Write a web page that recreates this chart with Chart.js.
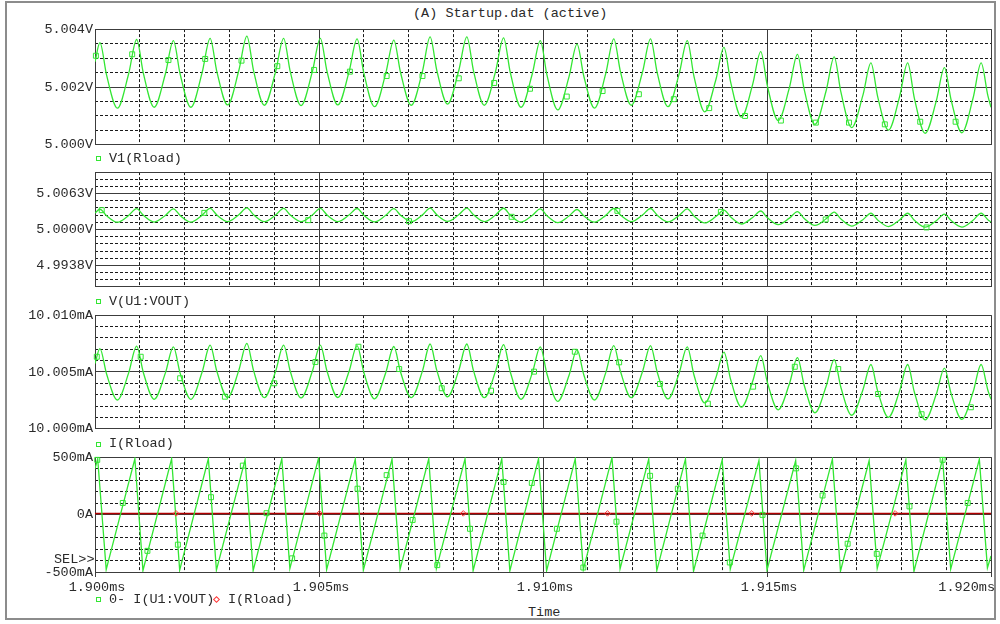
<!DOCTYPE html>
<html>
<head>
<meta charset="utf-8">
<script src="https://cdn.jsdelivr.net/npm/chart.js"></script>
<style>
  body { margin: 0; background: #fff; }
  #page { position: relative; width: 1000px; height: 624px; overflow: hidden;
          font-family: 'Liberation Mono', 'Courier New', monospace; font-size: 13.5px; color: #2a2a2a; }
  .frame { position: absolute; left: 5px; top: 1px; width: 991px; height: 619px;
           box-sizing: border-box; border: 2px solid #8c8c8c; }
  canvas { position: absolute; left: 0; }
  .txt { position: absolute; line-height: 16px; white-space: pre; }
  .sq { position: absolute; width: 3px; height: 3px; border: 1px solid #33e633; }
  .dia { position: absolute; width: 3px; height: 3px; border: 1px solid #ff3838; transform: rotate(45deg); }
</style>
</head>
<body>
<div id="page">
  <div class="frame"></div>
  <div class="txt" style="left:413px; top:6px;">(A) Startup.dat (active)</div>

  <canvas id="p1" width="1000" height="136" style="top:19px"></canvas>
  <canvas id="p2" width="1000" height="135" style="top:162px"></canvas>
  <canvas id="p3" width="1000" height="134" style="top:305px"></canvas>
  <canvas id="p4" width="1000" height="149" style="top:447px"></canvas>

  <div class="sq" style="left:96px; top:156px;"></div>
  <div class="txt" style="left:109px; top:151px;">V1(Rload)</div>
  <div class="sq" style="left:96px; top:299px;"></div>
  <div class="txt" style="left:109px; top:294px;">V(U1:VOUT)</div>
  <div class="sq" style="left:96px; top:442px;"></div>
  <div class="txt" style="left:109px; top:436px;">I(Rload)</div>
  <div class="txt" style="left:54px; top:552px;">SEL&gt;&gt;</div>
  <div class="sq" style="left:96px; top:597px;"></div>
  <div class="txt" style="left:109px; top:592px;">0- I(U1:VOUT)</div>
  <div class="dia" style="left:214px; top:597px;"></div>
  <div class="txt" style="left:228px; top:592px;">I(Rload)</div>
  <div class="txt" style="left:528px; top:605px;">Time</div>
</div>

<script>
// time axis, in microseconds (1900 us = 1.900 ms)
const timeTicks = [1900, 1905, 1910, 1915, 1920];
const timeTickLabels = ['1.900ms', '1.905ms', '1.910ms', '1.915ms', '1.920ms'];

const v1Ticks = [5.000, 5.002, 5.004];
const v1TickLabels = ['5.000V', '5.002V', '5.004V'];
const v2Ticks = [4.99, 4.99375, 5.0, 5.00625, 5.01];
const v2TickLabels = ['', '4.9938V', '5.0000V', '5.0063V', ''];
const i3Ticks = [10.000, 10.005, 10.010];
const i3TickLabels = ['10.000mA', '10.005mA', '10.010mA'];
const i4Ticks = [-500, 0, 500];
const i4TickLabels = ['-500mA', '0A', '500mA'];

// load voltage: peak, falling edge, trough, rising edge per cycle
const vTime = [1900.00,
  1900.11, 1900.26, 1900.50, 1900.75,
  1900.93, 1901.08, 1901.32, 1901.57,
  1901.75, 1901.90, 1902.14, 1902.39,
  1902.57, 1902.72, 1902.96, 1903.21,
  1903.39, 1903.54, 1903.78, 1904.03,
  1904.21, 1904.36, 1904.60, 1904.85,
  1905.03, 1905.18, 1905.42, 1905.67,
  1905.85, 1906.00, 1906.24, 1906.49,
  1906.67, 1906.82, 1907.06, 1907.31,
  1907.48, 1907.63, 1907.87, 1908.12,
  1908.30, 1908.45, 1908.69, 1908.94,
  1909.12, 1909.27, 1909.51, 1909.76,
  1909.94, 1910.09, 1910.33, 1910.58,
  1910.76, 1910.91, 1911.15, 1911.40,
  1911.58, 1911.73, 1911.97, 1912.22,
  1912.40, 1912.55, 1912.79, 1913.04,
  1913.22, 1913.37, 1913.61, 1913.86,
  1914.04, 1914.19, 1914.43, 1914.68,
  1914.86, 1915.01, 1915.25, 1915.50,
  1915.68, 1915.83, 1916.07, 1916.32,
  1916.50, 1916.65, 1916.89, 1917.14,
  1917.32, 1917.47, 1917.71, 1917.96,
  1918.14, 1918.29, 1918.53, 1918.78,
  1918.96, 1919.11, 1919.35, 1919.60,
  1919.78, 1919.93, 1920.00];

// V1(Rload); V(U1:VOUT) reads the same at its coarser scale
const vRload = [5.00287,
  5.00353, 5.00240, 5.00127, 5.00245,
  5.00364, 5.00247, 5.00130, 5.00245,
  5.00360, 5.00245, 5.00130, 5.00249,
  5.00368, 5.00253, 5.00138, 5.00257,
  5.00376, 5.00256, 5.00137, 5.00252,
  5.00368, 5.00252, 5.00136, 5.00252,
  5.00368, 5.00253, 5.00138, 5.00252,
  5.00366, 5.00249, 5.00132, 5.00247,
  5.00362, 5.00250, 5.00137, 5.00255,
  5.00373, 5.00257, 5.00141, 5.00257,
  5.00373, 5.00255, 5.00137, 5.00253,
  5.00370, 5.00250, 5.00130, 5.00245,
  5.00360, 5.00240, 5.00121, 5.00235,
  5.00348, 5.00238, 5.00127, 5.00246,
  5.00366, 5.00252, 5.00137, 5.00251,
  5.00366, 5.00249, 5.00132, 5.00246,
  5.00360, 5.00237, 5.00114, 5.00226,
  5.00337, 5.00216, 5.00096, 5.00209,
  5.00322, 5.00203, 5.00084, 5.00198,
  5.00313, 5.00192, 5.00071, 5.00187,
  5.00304, 5.00182, 5.00060, 5.00171,
  5.00283, 5.00167, 5.00051, 5.00167,
  5.00283, 5.00161, 5.00040, 5.00153,
  5.00267, 5.00155, 5.00042, 5.00162,
  5.00283, 5.00170, 5.00130];

// I(Rload) in mA
const iLoad = [10.00574,
  10.00706, 10.00480, 10.00254, 10.00490,
  10.00728, 10.00494, 10.00260, 10.00490,
  10.00720, 10.00490, 10.00260, 10.00498,
  10.00736, 10.00506, 10.00276, 10.00514,
  10.00752, 10.00512, 10.00274, 10.00504,
  10.00736, 10.00504, 10.00272, 10.00504,
  10.00736, 10.00506, 10.00276, 10.00504,
  10.00732, 10.00498, 10.00264, 10.00494,
  10.00724, 10.00500, 10.00274, 10.00510,
  10.00746, 10.00514, 10.00282, 10.00514,
  10.00746, 10.00510, 10.00274, 10.00506,
  10.00740, 10.00500, 10.00260, 10.00490,
  10.00720, 10.00480, 10.00242, 10.00470,
  10.00696, 10.00476, 10.00254, 10.00492,
  10.00732, 10.00504, 10.00274, 10.00502,
  10.00732, 10.00498, 10.00264, 10.00492,
  10.00720, 10.00474, 10.00228, 10.00452,
  10.00674, 10.00432, 10.00192, 10.00418,
  10.00644, 10.00406, 10.00168, 10.00396,
  10.00626, 10.00384, 10.00142, 10.00374,
  10.00608, 10.00364, 10.00120, 10.00342,
  10.00566, 10.00334, 10.00102, 10.00334,
  10.00566, 10.00322, 10.00080, 10.00306,
  10.00534, 10.00310, 10.00084, 10.00324,
  10.00566, 10.00340, 10.00260];

// 0- I(U1:VOUT) in mA: peaks and troughs of the ripple
const iOutTime = [1900.00, 1900.06,
  1900.25, 1900.89, 1901.07, 1901.71, 1901.89, 1902.53, 1902.71, 1903.35,
  1903.53, 1904.17, 1904.35, 1904.99, 1905.17, 1905.81, 1905.99, 1906.63,
  1906.81, 1907.45, 1907.62, 1908.26, 1908.44, 1909.08, 1909.26, 1909.90,
  1910.08, 1910.72, 1910.90, 1911.54, 1911.72, 1912.36, 1912.54, 1913.18,
  1913.36, 1914.00, 1914.18, 1914.82, 1915.00, 1915.64, 1915.82, 1916.46,
  1916.64, 1917.28, 1917.46, 1918.10, 1918.28, 1918.92, 1919.10, 1919.74,
  1919.92, 1920.00];
const iOut = [400, 485,
  -479, 485, -488, 485, -484, 485, -484, 476,
  -488, 485, -470, 491, -480, 482, -484, 482,
  -475, 485, -470, 485, -488, 485, -490, 485,
  -490, 485, -479, 495, -473, 482, -488, 482,
  -493, 476, -475, 470, -484, 470, -484, 482,
  -493, 470, -470, 476, -495, 485, -475, 482,
  -464, -360];

// trace markers
const v1MarkTime = [1900.02, 1900.83, 1901.64, 1902.46, 1903.27, 1904.07, 1904.89, 1905.69, 1906.51,
  1907.31, 1908.12, 1908.91, 1909.71, 1910.53, 1911.33, 1912.14, 1912.92, 1913.71, 1914.51, 1915.31,
  1916.09, 1916.83, 1917.63, 1918.42, 1919.21];
const v1MarkValue = [5.00308, 5.00313, 5.00293, 5.00297, 5.00291, 5.00272, 5.00259, 5.00253, 5.00238,
  5.00238, 5.00230, 5.00214, 5.00194, 5.00167, 5.00186, 5.00175, 5.00158, 5.00127, 5.00100, 5.00084,
  5.00077, 5.00077, 5.00071, 5.00080, 5.00080];
const v2MarkTime = [1900.15, 1902.44, 1904.76, 1907.01, 1909.30, 1911.66, 1913.97, 1916.31, 1918.56];
const v2MarkValue = [5.00337, 5.00290, 5.00163, 5.00145, 5.00221, 5.00325, 5.00308, 5.00175, 5.00036];
const i3MarkTime = [1900.04, 1901.02, 1901.90, 1902.90, 1904.00, 1904.92, 1905.88, 1906.79, 1907.74,
  1908.84, 1909.80, 1910.71, 1911.70, 1912.61, 1913.68, 1914.69, 1915.62, 1916.59, 1917.48, 1918.45, 1919.55];
const i3MarkValue = [10.00634, 10.00634, 10.00445, 10.00283, 10.00401, 10.00588, 10.00722, 10.00526, 10.00357,
  10.00336, 10.00503, 10.00678, 10.00585, 10.00395, 10.00222, 10.00371, 10.00546, 10.00526, 10.00307, 10.00129, 10.00190];
const i4MarkTime = [1900.05, 1900.62, 1901.17, 1901.85, 1902.59, 1903.30, 1903.83, 1904.40, 1905.12,
  1905.86, 1906.51, 1907.09, 1907.64, 1908.37, 1909.12, 1909.75, 1910.31, 1910.90, 1911.64, 1912.39,
  1913.01, 1913.56, 1914.17, 1914.90, 1915.65, 1916.24, 1916.80, 1917.45, 1918.18, 1918.92, 1919.48];
const i4MarkValue = [476, 101, -316, -262, 151, 426, 12, -381, -183,
  225, 343, -47, -440, -124, 284, 275, -124, -461, -62, 337,
  225, -183, -417, -3, 402, 166, -254, -342, 71, 476, 101];
const iRloadMarkTime = [1901.81, 1905.01, 1908.22, 1911.44, 1914.66, 1917.86];
const iRloadMarkValue = [10.004, 10.006, 10.005, 10.003, 10.006, 10.004];

const GREEN = '#33e633';
const RED_LINE = '#b00000';
const RED_MARK = '#ff3838';
const majorGrid = '#3c3c3c';
const minorGrid = '#1a1a1a';
const tickFont = { family: 'Liberation Mono', size: 13.5 };

function near(list, v) { return list.some(m => Math.abs(m - v) < 1e-9); }
function pts(xs, ys) { return xs.map((x, i) => ({ x: x, y: ys[i] })); }

function trace(xs, ys, extra) {
  return Object.assign({
    data: pts(xs, ys), borderColor: GREEN, borderWidth: 1.3, pointRadius: 0,
    cubicInterpolationMode: 'monotone', fill: false, xAxisID: 'x', yAxisID: 'y'
  }, extra || {});
}
function marks(xs, ys, color, style, extra) {
  return Object.assign({
    data: pts(xs, ys), showLine: false, pointStyle: style, pointRadius: 3.5,
    pointBorderColor: color, pointBackgroundColor: 'rgba(0,0,0,0)', pointBorderWidth: 1,
    borderColor: color, clip: false, xAxisID: 'x', yAxisID: 'y'
  }, extra || {});
}

function scalesFor(p) {
  const yMin = p.ticks[0], yMax = p.ticks[p.ticks.length - 1];
  return {
    x: {
      type: 'linear', position: 'bottom', min: 1900, max: 1920,
      afterBuildTicks: s => { s.ticks = timeTicks.map(v => ({ value: v })); },
      ticks: { display: false },
      grid: { color: majorGrid, drawTicks: !!p.timeAxis, tickLength: 5 },
      border: { color: majorGrid },
      afterFit: s => { s.height = 0; }
    },
    xMinor: {
      type: 'linear', position: 'bottom', min: 1900, max: 1920,
      ticks: { display: false, stepSize: 1 },
      grid: { color: c => near(timeTicks, c.tick.value) ? 'rgba(0,0,0,0)' : minorGrid, drawTicks: false },
      border: { display: false, dash: [3, 2] },
      afterFit: s => { s.height = 0; }
    },
    y: {
      type: 'linear', position: 'left', min: yMin, max: yMax,
      afterBuildTicks: s => { s.ticks = p.ticks.map(v => ({ value: v })); },
      ticks: { font: tickFont, color: '#2a2a2a', padding: 2, autoSkip: false,
               callback: (v, i) => p.labels[i] },
      grid: { color: majorGrid, drawTicks: false },
      border: { color: majorGrid },
      afterFit: s => { s.width = 95; }
    },
    yMinor: {
      type: 'linear', position: 'left', min: yMin, max: yMax,
      ticks: { display: false, stepSize: p.minor },
      grid: { color: c => near(p.ticks, c.tick.value) ? 'rgba(0,0,0,0)' : minorGrid, drawTicks: false },
      border: { display: false, dash: [3, 2] },
      afterFit: s => { s.width = 0; }
    }
  };
}

// time labels under the last panel; the last one is kept inside the frame
const timeLabelPlugin = {
  id: 'timeLabels',
  afterDraw(chart) {
    const sx = chart.scales.x, ctx = chart.ctx, bottom = chart.chartArea.bottom;
    ctx.save();
    ctx.font = '13.5px "Liberation Mono"';
    ctx.fillStyle = '#2a2a2a';
    ctx.textAlign = 'center';
    ctx.textBaseline = 'middle';
    timeTicks.forEach((v, i) => {
      const w = ctx.measureText(timeTickLabels[i]).width;
      const x = Math.min(sx.getPixelForValue(v) + 2, chart.width - 5 - w / 2);
      ctx.fillText(timeTickLabels[i], x, bottom + 15);
    });
    ctx.restore();
  }
};

function buildChart(id, p) {
  return new Chart(document.getElementById(id), {
    type: 'line',
    data: { datasets: p.datasets },
    options: {
      responsive: false,
      animation: false,
      events: [],
      layout: { padding: { top: 10, right: 9, bottom: p.timeAxis ? 24 : 10, left: 0 } },
      plugins: { legend: { display: false }, tooltip: { enabled: false } },
      scales: scalesFor(p)
    },
    plugins: p.timeAxis ? [timeLabelPlugin] : []
  });
}

buildChart('p1', {
  ticks: v1Ticks, labels: v1TickLabels, minor: 0.0005,
  datasets: [trace(vTime, vRload), marks(v1MarkTime, v1MarkValue, GREEN, 'rect')]
});
buildChart('p2', {
  ticks: v2Ticks, labels: v2TickLabels, minor: 0.00125,
  datasets: [trace(vTime, vRload), marks(v2MarkTime, v2MarkValue, GREEN, 'rect')]
});
buildChart('p3', {
  ticks: i3Ticks, labels: i3TickLabels, minor: 0.001,
  datasets: [trace(vTime, iLoad), marks(i3MarkTime, i3MarkValue, GREEN, 'rect')]
});
buildChart('p4', {
  ticks: i4Ticks, labels: i4TickLabels, minor: 100, timeAxis: true,
  datasets: [
    trace(iOutTime, iOut, { cubicInterpolationMode: 'default', tension: 0, order: 2 }),
    marks(i4MarkTime, i4MarkValue, GREEN, 'rect', { order: 1 }),
    trace(vTime, iLoad, { borderColor: RED_LINE, borderWidth: 1.5, order: 3 }),
    marks(iRloadMarkTime, iRloadMarkValue, RED_MARK, 'rectRot', { pointRadius: 2.8, order: 0 })
  ]
});
</script>
</body>
</html>
